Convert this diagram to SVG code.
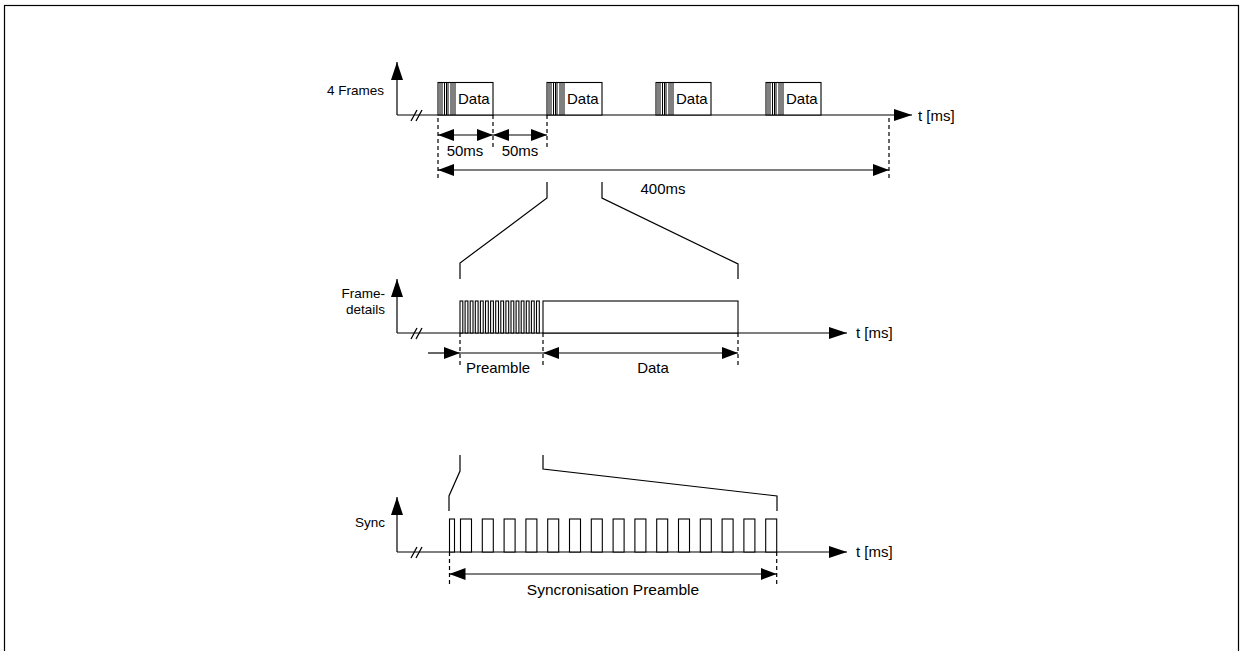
<svg xmlns="http://www.w3.org/2000/svg" width="1240" height="651" viewBox="0 0 1240 651">
<style>
.l{stroke:#000;stroke-width:1.2;fill:none}
.d{stroke:#000;stroke-width:1.2;fill:none;stroke-dasharray:4 3}
.p{stroke:#000;stroke-width:1.1;fill:#fff}
.s{stroke:#000;stroke-width:1;fill:none}
.br{stroke:#000;stroke-width:1.3;fill:none}
text{font-family:"Liberation Sans",Arial,sans-serif;font-size:15px;fill:#000}
.lb{font-size:13.5px}
</style>
<defs>
<marker id="ah" viewBox="0 0 16 12" refX="16" refY="6" markerWidth="16" markerHeight="12" markerUnits="userSpaceOnUse" orient="auto-start-reverse"><path d="M0,0 L16,6 L0,12 Z" fill="#000"/></marker>
<marker id="ax" viewBox="0 0 18 12" refX="18" refY="6" markerWidth="18" markerHeight="12" markerUnits="userSpaceOnUse" orient="auto"><path d="M0,0 L18,6 L0,12 Z" fill="#000"/></marker>
</defs>
<rect x="4.5" y="5.5" width="1234" height="660" fill="#fff" stroke="#000" stroke-width="1.2"/>

<g id="panel-frames">
<text class="lb" x="384" y="95" text-anchor="end">4 Frames</text>
<line class="l" x1="397" y1="115" x2="397" y2="62" marker-end="url(#ax)"/>
<line class="l" x1="397" y1="115" x2="912" y2="115" marker-end="url(#ax)"/>
<path class="br" d="M411,121 L417,110 M416,121 L422,110"/>
<text x="918" y="121">t [ms]</text>
<g id="frame1">
<rect class="p" x="438" y="82.5" width="55" height="32.5"/>
<path class="s" d="M440,82.5V115M442,82.5V115M444.5,82.5V115M446.5,82.5V115M448,82.5V115M451,82.5V115M453,82.5V115M455,82.5V115"/>
<text x="458" y="104">Data</text>
</g>
<g id="frame2">
<rect class="p" x="547" y="82.5" width="55" height="32.5"/>
<path class="s" d="M549,82.5V115M551,82.5V115M553.5,82.5V115M555.5,82.5V115M557,82.5V115M560,82.5V115M562,82.5V115M564,82.5V115"/>
<text x="567" y="104">Data</text>
</g>
<g id="frame3">
<rect class="p" x="656" y="82.5" width="55" height="32.5"/>
<path class="s" d="M658,82.5V115M660,82.5V115M662.5,82.5V115M664.5,82.5V115M666,82.5V115M669,82.5V115M671,82.5V115M673,82.5V115"/>
<text x="676" y="104">Data</text>
</g>
<g id="frame4">
<rect class="p" x="766" y="82.5" width="55" height="32.5"/>
<path class="s" d="M768,82.5V115M770,82.5V115M772.5,82.5V115M774.5,82.5V115M776,82.5V115M779,82.5V115M781,82.5V115M783,82.5V115"/>
<text x="786" y="104">Data</text>
</g>
<text x="465" y="156" text-anchor="middle">50ms</text>
<text x="520" y="156" text-anchor="middle">50ms</text>
<text x="663" y="194" text-anchor="middle">400ms</text>
</g>

<g id="panel-framedetails">
<text class="lb" x="385" y="298" text-anchor="end">Frame-</text>
<text class="lb" x="385" y="314" text-anchor="end">details</text>
<line class="l" x1="397" y1="333" x2="397" y2="279" marker-end="url(#ax)"/>
<line class="l" x1="397" y1="333" x2="847" y2="333" marker-end="url(#ax)"/>
<path class="br" d="M411,339 L417,328 M416,339 L422,328"/>
<text x="856" y="338">t [ms]</text>
<g id="preamble-pulses">
<rect class="p" x="460" y="301" width="2.8" height="32"/>
<rect class="p" x="465.1" y="301" width="2.8" height="32"/>
<rect class="p" x="470.2" y="301" width="2.8" height="32"/>
<rect class="p" x="475.3" y="301" width="2.8" height="32"/>
<rect class="p" x="480.4" y="301" width="2.8" height="32"/>
<rect class="p" x="485.5" y="301" width="2.8" height="32"/>
<rect class="p" x="490.6" y="301" width="2.8" height="32"/>
<rect class="p" x="495.7" y="301" width="2.8" height="32"/>
<rect class="p" x="500.8" y="301" width="2.8" height="32"/>
<rect class="p" x="505.9" y="301" width="2.8" height="32"/>
<rect class="p" x="511" y="301" width="2.8" height="32"/>
<rect class="p" x="516.1" y="301" width="2.8" height="32"/>
<rect class="p" x="521.2" y="301" width="2.8" height="32"/>
<rect class="p" x="526.3" y="301" width="2.8" height="32"/>
<rect class="p" x="531.4" y="301" width="2.8" height="32"/>
<rect class="p" x="536.5" y="301" width="2.8" height="32"/>
</g>
<rect id="data-box" class="p" x="543" y="301" width="195" height="32"/>
<text x="498" y="373" text-anchor="middle">Preamble</text>
<text x="653" y="373" text-anchor="middle">Data</text>
</g>

<g id="panel-sync">
<text class="lb" x="385" y="527" text-anchor="end">Sync</text>
<line class="l" x1="397" y1="552" x2="397" y2="497" marker-end="url(#ax)"/>
<line class="l" x1="397" y1="552" x2="847" y2="552" marker-end="url(#ax)"/>
<path class="br" d="M411,558 L417,547 M416,558 L422,547"/>
<text x="856" y="557">t [ms]</text>
<g id="sync-pulses">
<rect class="p" x="449.5" y="519" width="5" height="33"/>
<rect class="p" x="460.5" y="519" width="11" height="33"/>
<rect class="p" x="482.3" y="519" width="11" height="33"/>
<rect class="p" x="504.1" y="519" width="11" height="33"/>
<rect class="p" x="525.9" y="519" width="11" height="33"/>
<rect class="p" x="547.7" y="519" width="11" height="33"/>
<rect class="p" x="569.5" y="519" width="11" height="33"/>
<rect class="p" x="591.3" y="519" width="11" height="33"/>
<rect class="p" x="613.1" y="519" width="11" height="33"/>
<rect class="p" x="634.9" y="519" width="11" height="33"/>
<rect class="p" x="656.7" y="519" width="11" height="33"/>
<rect class="p" x="678.5" y="519" width="11" height="33"/>
<rect class="p" x="700.3" y="519" width="11" height="33"/>
<rect class="p" x="722.1" y="519" width="11" height="33"/>
<rect class="p" x="743.9" y="519" width="11" height="33"/>
<rect class="p" x="765.7" y="519" width="11" height="33"/>
</g>
<text x="613" y="595" text-anchor="middle" style="font-size:15.5px">Syncronisation Preamble</text>
</g>

<g id="connectors">
<line class="d" x1="438" y1="118" x2="438" y2="178"/>
<line class="d" x1="493" y1="115" x2="493" y2="147"/>
<line class="d" x1="547" y1="115" x2="547" y2="147"/>
<line class="d" x1="889" y1="118" x2="889" y2="178"/>
<line class="l" x1="438" y1="135" x2="493" y2="135" marker-start="url(#ah)" marker-end="url(#ah)"/>
<line class="l" x1="493" y1="135" x2="547" y2="135" marker-start="url(#ah)" marker-end="url(#ah)"/>
<line class="l" x1="438" y1="170" x2="889" y2="170" marker-start="url(#ah)" marker-end="url(#ah)"/>
<polyline class="l" points="547,182 547,198 460,263 460,279"/>
<polyline class="l" points="602,182 602,198 738,264 738,279"/>
<line class="d" x1="460" y1="333" x2="460" y2="367"/>
<line class="d" x1="543" y1="333" x2="543" y2="367"/>
<line class="d" x1="738" y1="333" x2="738" y2="367"/>
<line class="l" x1="428" y1="353" x2="460" y2="353" marker-end="url(#ah)"/>
<line class="l" x1="460" y1="353" x2="543" y2="353"/>
<line class="l" x1="543" y1="353" x2="738" y2="353" marker-start="url(#ah)" marker-end="url(#ah)"/>
<polyline class="l" points="460,455 460,471 449,496 449,511"/>
<polyline class="l" points="543,455 543,469 777,496 777,511"/>
<line class="d" x1="449.5" y1="552" x2="449.5" y2="587"/>
<line class="d" x1="776.7" y1="552" x2="776.7" y2="587"/>
<line class="l" x1="449.5" y1="574" x2="776.7" y2="574" marker-start="url(#ah)" marker-end="url(#ah)"/>
</g>
</svg>
